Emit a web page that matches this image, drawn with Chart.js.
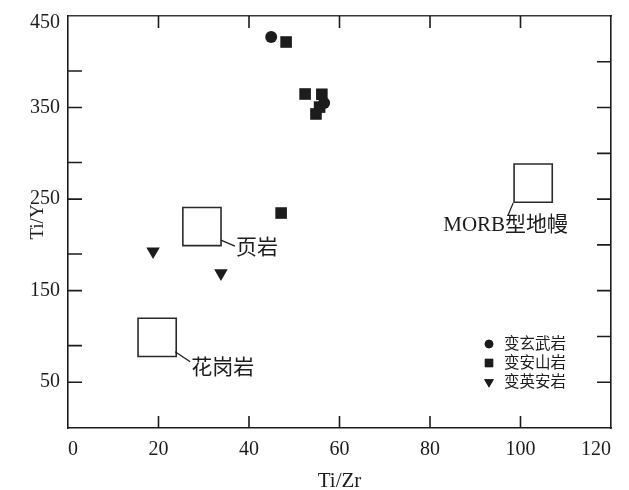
<!DOCTYPE html>
<html>
<head>
<meta charset="utf-8">
<script src="https://cdn.jsdelivr.net/npm/chart.js@4.4.1/dist/chart.umd.min.js"></script>
<style>
  html, body { margin: 0; padding: 0; background: #fff; }
  #wrap { width: 629px; height: 490px; }
</style>
</head>
<body>
<div id="wrap"><canvas id="c" width="629" height="490"></canvas></div>
<script>
// Axis tick values
const xTicks = [0, 20, 40, 60, 80, 100, 120];
const yLabelTicks = [50, 150, 250, 350, 450];
const yMinorTicks = [90, 190, 290, 390];
const yRightTicks = [50, 100, 150, 200, 250, 300, 350, 400];

// Sample series (Ti/Zr, Ti/Y)
const seriesNames = ['变玄武岩', '变安山岩', '变英安岩'];
const basaltTiZr = [44.9, 56.6];
const basaltTiY = [427, 355];
const andesiteTiZr = [48.2, 52.4, 56.1, 55.6, 54.8, 47.1];
const andesiteTiY = [421.6, 364.8, 364.5, 350.5, 343, 234.8];
const daciteTiZr = [18.8, 33.8];
const daciteTiY = [193, 169];

// Reference fields (centres)
const fieldNames = ['页岩', '花岗岩', 'MORB型地幔'];
const fieldTiZr = [29.6, 19.7, 102.8];
const fieldTiY = [220, 99, 267.5];

const INK = '#1c1c1c';
const FONT = '"Liberation Serif", "Noto Sans CJK SC", serif';
const Y_MAX = 450;

const toPoints = (xs, ys) => xs.map((x, i) => ({ x, y: ys[i] }));

// Leader-line and label placement for each field, in pixels from the field centre
const fieldLabelLayout = [
  { from: [19, 13.5], to: [33, 19.5], text: [34, 21.5], align: 'left' },
  { from: [18, 14.5], to: [33, 24.5], text: [34, 31.5], align: 'left' },
  { from: [-20, 20], to: [-25, 32], text: [-27.5, 42], align: 'center' }
];

const markerStyles = [
  { pointStyle: 'circle', radius: 6, rotation: 0 },
  { pointStyle: 'rect', radius: 8.2, rotation: 0 },
  { pointStyle: 'triangle', radius: 7.8, rotation: 180 }
];

// Fixed scale box sizes so the frame sits where it should
const fixBox = size => sc => {
  if (sc.isHorizontal()) sc.height = size; else sc.width = size;
  sc.paddingLeft = sc.paddingRight = sc.paddingTop = sc.paddingBottom = 0;
};

const inwardTicks = {
  id: 'inwardTicks',
  afterDatasetsDraw(chart) {
    const { ctx, scales: s, chartArea: a } = chart;
    ctx.save();
    ctx.strokeStyle = INK;
    ctx.lineWidth = 1.6;
    ctx.beginPath();
    const xLen = 12, yLen = 14;
    s.x.ticks.forEach(t => {
      if (t.value <= s.x.min || t.value >= s.x.max) return;
      const p = s.x.getPixelForValue(t.value);
      ctx.moveTo(p, a.bottom); ctx.lineTo(p, a.bottom - xLen);
    });
    s.x2.ticks.forEach(t => {
      if (t.value <= s.x2.min || t.value >= s.x2.max) return;
      const p = s.x2.getPixelForValue(t.value);
      ctx.moveTo(p, a.top); ctx.lineTo(p, a.top + xLen);
    });
    s.y.ticks.forEach(t => {
      if (t.value <= s.y.min || t.value >= s.y.max) return;
      const p = s.y.getPixelForValue(t.value);
      ctx.moveTo(a.left, p); ctx.lineTo(a.left + yLen, p);
    });
    s.y2.ticks.forEach(t => {
      if (t.value <= s.y2.min || t.value >= s.y2.max) return;
      const p = s.y2.getPixelForValue(t.value);
      ctx.moveTo(a.right, p); ctx.lineTo(a.right - yLen, p);
    });
    ctx.stroke();

    // Field labels with leader lines
    ctx.lineWidth = 1.2;
    ctx.fillStyle = INK;
    ctx.textBaseline = 'middle';
    ctx.font = '21px ' + FONT;
    fieldNames.forEach((name, i) => {
      const cx = s.x.getPixelForValue(fieldTiZr[i]);
      const cy = s.y.getPixelForValue(fieldTiY[i]);
      const L = fieldLabelLayout[i];
      ctx.beginPath();
      ctx.moveTo(cx + L.from[0], cy + L.from[1]);
      ctx.lineTo(cx + L.to[0], cy + L.to[1]);
      ctx.stroke();
      ctx.textAlign = L.align;
      ctx.fillText(name, cx + L.text[0], cy + L.text[1]);
    });

    // Legend
    const lx = a.right - 122, ly0 = a.bottom - 84, dy = 19;
    ctx.font = '15.5px ' + FONT;
    ctx.textAlign = 'left';
    seriesNames.forEach((name, i) => {
      const m = markerStyles[i];
      const y = ly0 + i * dy;
      ctx.fillStyle = INK;
      ctx.strokeStyle = INK;
      Chart.helpers.drawPoint(ctx, {
        pointStyle: m.pointStyle,
        radius: m.radius * 0.72,
        rotation: m.rotation,
        borderWidth: 0
      }, lx, y);
      ctx.fill();
      ctx.fillText(name, lx + 15, y + 1);
    });
    ctx.restore();
  }
};

const tickFont = { family: FONT, size: 20 };

new Chart(document.getElementById('c'), {
  type: 'scatter',
  data: {
    datasets: [
      {
        label: '区域',
        data: toPoints(fieldTiZr, fieldTiY),
        pointStyle: 'rect',
        pointRadius: 27,
        backgroundColor: 'rgba(255,255,255,0)',
        borderColor: '#2a2a2a',
        borderWidth: 1.6
      },
      {
        label: seriesNames[0],
        data: toPoints(basaltTiZr, basaltTiY),
        pointStyle: markerStyles[0].pointStyle,
        pointRadius: markerStyles[0].radius,
        backgroundColor: INK, borderColor: INK, borderWidth: 0
      },
      {
        label: seriesNames[1],
        data: toPoints(andesiteTiZr, andesiteTiY),
        pointStyle: markerStyles[1].pointStyle,
        pointRadius: markerStyles[1].radius,
        backgroundColor: INK, borderColor: INK, borderWidth: 0
      },
      {
        label: seriesNames[2],
        data: toPoints(daciteTiZr, daciteTiY),
        pointStyle: markerStyles[2].pointStyle,
        pointRadius: markerStyles[2].radius,
        rotation: markerStyles[2].rotation,
        backgroundColor: INK, borderColor: INK, borderWidth: 0
      }
    ]
  },
  options: {
    responsive: false,
    devicePixelRatio: 1,
    animation: false,
    layout: { padding: 0, autoPadding: false },
    plugins: { legend: { display: false }, tooltip: { enabled: false } },
    scales: {
      x: {
        type: 'linear', position: 'bottom', min: 0, max: 120,
        afterBuildTicks: sc => { sc.ticks = xTicks.map(v => ({ value: v })); },
        afterFit: fixBox(62),
        grid: { display: false, drawTicks: false },
        border: { display: true, color: INK, width: 1.6 },
        ticks: { color: INK, font: tickFont, padding: 10, maxRotation: 0, align: 'inner' },
        title: {
          display: true, text: 'Ti/Zr', color: INK,
          font: { family: FONT, size: 21, lineHeight: 1 },
          padding: { top: 0, bottom: -2 }
        }
      },
      x2: {
        type: 'linear', position: 'top', min: 0, max: 120,
        afterBuildTicks: sc => { sc.ticks = xTicks.map(v => ({ value: v })); },
        afterFit: fixBox(16),
        grid: { display: false, drawTicks: false },
        border: { display: true, color: '#3a3a3a', width: 1.6 },
        ticks: { display: false }
      },
      y: {
        type: 'linear', position: 'left', min: 0, max: Y_MAX,
        afterBuildTicks: sc => {
          sc.ticks = [...yLabelTicks, ...yMinorTicks].sort((a, b) => a - b).map(v => ({ value: v }));
        },
        afterFit: fixBox(68),
        grid: { display: false, drawTicks: false },
        border: { display: true, color: INK, width: 1.6 },
        ticks: {
          color: INK,
          // short line height: the top label is pushed below the frame corner
          font: { family: FONT, size: 20, lineHeight: 0.7 },
          padding: 8,
          callback: v => {
            if (!yLabelTicks.includes(v)) return '';
            return v === Y_MAX ? ['', String(v)] : String(v);
          }
        },
        title: {
          display: true, text: 'Ti/Y', color: INK,
          font: { family: FONT, size: 19, lineHeight: 1 },
          padding: { top: 29, bottom: 0 }
        }
      },
      y2: {
        type: 'linear', position: 'right', min: 0, max: Y_MAX,
        afterBuildTicks: sc => { sc.ticks = yRightTicks.map(v => ({ value: v })); },
        afterFit: fixBox(18),
        grid: { display: false, drawTicks: false },
        border: { display: true, color: INK, width: 1.6 },
        ticks: { display: false }
      }
    }
  },
  plugins: [inwardTicks]
});
</script>
</body>
</html>
